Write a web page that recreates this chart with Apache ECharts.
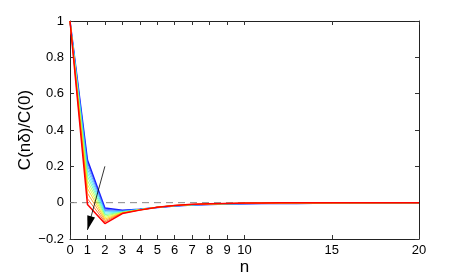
<!DOCTYPE html>
<html><head><meta charset="utf-8">
<script src="https://cdn.jsdelivr.net/npm/echarts@6/dist/echarts.min.js"></script>
<style>html,body{margin:0;padding:0;background:#fff}#c{width:463px;height:279px}</style>
</head><body><div id="c"></div>
<script>
const n = [0,1,2,3,4,5,6,7,8,9,10,11,12,13,14,15,16,17,18,19,20];
const xTicks = [0,1,2,3,4,5,6,7,8,9,10,15,20];
const yTicks = [-0.2,0,0.2,0.4,0.6,0.8,1];
const colors = ['#1a1aff','#2a50ff','#3a8cff','#3cc4ff','#40f0e8','#5cff9a','#9cff50','#e0ff20','#ffc800','#ff8c00','#ff4800','#ff0000'];
const s1  = [1,0.235,-0.030,-0.042,-0.036,-0.026,-0.019,-0.013,-0.010,-0.008,-0.006,-0.005,-0.004,-0.004,-0.003,-0.003,-0.003,-0.002,-0.002,-0.002,-0.002];
const s2  = [1,0.222,-0.036,-0.044,-0.036,-0.026,-0.018,-0.013,-0.010,-0.008,-0.006,-0.005,-0.004,-0.003,-0.003,-0.003,-0.002,-0.002,-0.002,-0.002,-0.002];
const s3  = [1,0.205,-0.043,-0.046,-0.037,-0.026,-0.018,-0.012,-0.009,-0.007,-0.005,-0.004,-0.004,-0.003,-0.003,-0.002,-0.002,-0.002,-0.002,-0.001,-0.001];
const s4  = [1,0.185,-0.050,-0.048,-0.037,-0.026,-0.018,-0.012,-0.009,-0.007,-0.005,-0.004,-0.003,-0.003,-0.002,-0.002,-0.002,-0.002,-0.001,-0.001,-0.001];
const s5  = [1,0.165,-0.058,-0.050,-0.038,-0.026,-0.017,-0.012,-0.009,-0.006,-0.005,-0.004,-0.003,-0.003,-0.002,-0.002,-0.002,-0.001,-0.001,-0.001,-0.001];
const s6  = [1,0.145,-0.066,-0.052,-0.038,-0.025,-0.017,-0.011,-0.008,-0.006,-0.004,-0.003,-0.003,-0.002,-0.002,-0.002,-0.001,-0.001,-0.001,-0.001,-0.001];
const s7  = [1,0.122,-0.074,-0.053,-0.039,-0.025,-0.016,-0.011,-0.008,-0.006,-0.004,-0.003,-0.002,-0.002,-0.002,-0.001,-0.001,-0.001,-0.001,-0.001,-0.001];
const s8  = [1,0.100,-0.082,-0.055,-0.039,-0.025,-0.016,-0.011,-0.007,-0.005,-0.004,-0.003,-0.002,-0.002,-0.001,-0.001,-0.001,-0.001,-0.001,-0.001,0];
const s9  = [1,0.078,-0.090,-0.056,-0.040,-0.025,-0.016,-0.010,-0.007,-0.005,-0.003,-0.002,-0.002,-0.001,-0.001,-0.001,-0.001,-0.001,0,0,0];
const s10 = [1,0.052,-0.098,-0.057,-0.040,-0.025,-0.015,-0.010,-0.007,-0.004,-0.003,-0.002,-0.002,-0.001,-0.001,-0.001,0,0,0,0,0];
const s11 = [1,0.022,-0.106,-0.058,-0.041,-0.025,-0.015,-0.010,-0.006,-0.004,-0.003,-0.002,-0.001,-0.001,-0.001,0,0,0,0,0,0];
const s12 = [1,-0.010,-0.115,-0.060,-0.041,-0.025,-0.015,-0.009,-0.006,-0.004,-0.002,-0.002,-0.001,-0.001,0,0,0,0,0,0,0];
const seriesValues = [s1,s2,s3,s4,s5,s6,s7,s8,s9,s10,s11,s12];
const arrowFrom = [2, 0.2];
const arrowTo = [1, -0.15];
const zeroLine = [[0,0],[20,0]];

const chart = echarts.init(document.getElementById('c'), null, {renderer:'canvas'});
const font = 'Liberation Sans, Arial, sans-serif';
const series = seriesValues.map((vals, i) => ({
  type: 'line', data: vals.map((v, j) => [n[j], v]), showSymbol: false, symbol: 'none',
  lineStyle: {color: colors[i], width: (i === 0 || i === seriesValues.length - 1) ? 1.5 : 0.8},
  z: 3, animation: false, silent: true
}));
series.unshift({
  type: 'line', data: zeroLine, symbol: 'none', lineStyle: {color: '#888', width: 1, type: [7, 5]}, z: 2, animation: false, silent: true,
  markLine: {
    silent: true, animation: false, z: 5,
    symbol: ['none', 'triangle'], symbolSize: [8, 14], symbolOffset: [0, [0, 7]],
    label: {show: false},
    lineStyle: {color: '#000', width: 0.8, type: 'solid'},
    itemStyle: {color: '#000'},
    emphasis: {disabled: true},
    data: [[{coord: arrowFrom}, {coord: arrowTo}]]
  }
});
const tickStyle = {show: true, inside: true, length: 4, lineStyle: {color: '#333', width: 1}};
chart.setOption({
  animation: false,
  grid: {left: 70, top: 21, right: 44, bottom: 40, containLabel: false, outerBoundsMode: 'none'},
  xAxis: [
    {type: 'value', min: 0, max: 20, position: 'bottom',
     name: 'n', nameLocation: 'middle', nameGap: 20, nameMoveOverlap: false,
     nameTextStyle: {fontFamily: font, fontSize: 17, color: '#000'},
     axisLine: {show: true, onZero: false, lineStyle: {color: '#222', width: 1}},
     axisTick: Object.assign({customValues: xTicks}, tickStyle),
     axisLabel: {customValues: xTicks, hideOverlap: false, showMinLabel: true, showMaxLabel: true, fontFamily: font, fontSize: 13, color: '#000', margin: 5},
     splitLine: {show: false}},
    {type: 'value', min: 0, max: 20, position: 'top',
     axisLine: {show: true, onZero: false, lineStyle: {color: '#222', width: 1}},
     axisTick: Object.assign({customValues: xTicks}, tickStyle),
     axisLabel: {show: false}, splitLine: {show: false}}
  ],
  yAxis: [
    {type: 'value', min: -0.2, max: 1, position: 'left',
     name: 'C(nδ)/C(0)', nameLocation: 'middle', nameGap: 36, nameRotate: 90, nameMoveOverlap: false,
     nameTextStyle: {fontFamily: font, fontSize: 17, color: '#000'},
     axisLine: {show: true, onZero: false, lineStyle: {color: '#222', width: 1}},
     axisTick: Object.assign({customValues: yTicks}, tickStyle),
     axisLabel: {customValues: yTicks, fontFamily: font, fontSize: 13, color: '#000', margin: 6,
       formatter: v => (Math.abs(v) < 1e-9 ? '0' : (v < 0 ? '\u2212' + (+(-v).toFixed(1)) : String(+v.toFixed(1))))},
     splitLine: {show: false}},
    {type: 'value', min: -0.2, max: 1, position: 'right',
     axisLine: {show: true, onZero: false, lineStyle: {color: '#222', width: 1}},
     axisTick: Object.assign({customValues: yTicks}, tickStyle),
     axisLabel: {show: false}, splitLine: {show: false}}
  ],
  series: series
});
</script></body></html>
